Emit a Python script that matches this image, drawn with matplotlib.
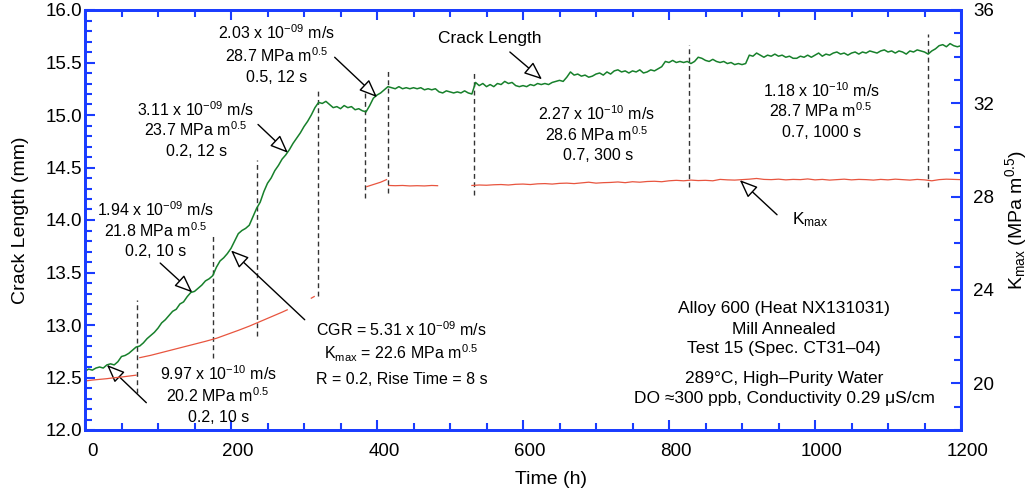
import matplotlib
matplotlib.use("Agg")
import matplotlib.pyplot as plt
import matplotlib.transforms as mtransforms
from matplotlib.ticker import MultipleLocator, FormatStrFormatter

plt.rcParams["font.family"] = ["Liberation Sans", "DejaVu Sans"]
plt.rcParams["mathtext.fontset"] = "custom"
plt.rcParams["mathtext.rm"] = "Liberation Sans"
plt.rcParams["mathtext.it"] = "Liberation Sans:italic"
plt.rcParams["mathtext.bf"] = "Liberation Sans:bold"

# crack length (mm), one reading every 5 h
crack_time = list(range(0, 1201, 5))
crack_mm = [
    12.56, 12.58, 12.57, 12.59, 12.60, 12.59, 12.62, 12.63, 12.62, 12.65,
    12.70, 12.71, 12.73, 12.76, 12.79, 12.80, 12.83, 12.87, 12.90, 12.93,
    12.97, 13.02, 13.05, 13.09, 13.13, 13.15, 13.20, 13.22, 13.27, 13.31,
    13.32, 13.35, 13.38, 13.42, 13.44, 13.47, 13.55, 13.61, 13.64, 13.68,
    13.73, 13.80, 13.87, 13.90, 13.92, 13.95, 14.03, 14.11, 14.17, 14.27,
    14.35, 14.40, 14.47, 14.52, 14.58, 14.62, 14.67, 14.73, 14.78, 14.83,
    14.89, 14.94, 15.00, 15.07, 15.12, 15.11, 15.13, 15.10, 15.07, 15.08,
    15.06, 15.09, 15.07, 15.08, 15.05, 15.06, 15.04, 15.03, 15.09, 15.16,
    15.19, 15.21, 15.24, 15.27, 15.26, 15.25, 15.27, 15.25, 15.26, 15.25,
    15.26, 15.25, 15.26, 15.24, 15.25, 15.24, 15.25, 15.22, 15.21, 15.23,
    15.22, 15.21, 15.22, 15.21, 15.23, 15.21, 15.20, 15.31, 15.28, 15.30,
    15.27, 15.29, 15.27, 15.30, 15.29, 15.32, 15.30, 15.31, 15.28, 15.27,
    15.28, 15.27, 15.29, 15.28, 15.30, 15.29, 15.30, 15.29, 15.31, 15.32,
    15.33, 15.32, 15.36, 15.41, 15.38, 15.39, 15.37, 15.38, 15.36, 15.37,
    15.39, 15.40, 15.38, 15.41, 15.39, 15.42, 15.43, 15.41, 15.42, 15.40,
    15.42, 15.41, 15.43, 15.40, 15.41, 15.43, 15.42, 15.44, 15.46, 15.51,
    15.50, 15.52, 15.50, 15.51, 15.50, 15.51, 15.49, 15.51, 15.55, 15.54,
    15.52, 15.51, 15.53, 15.51, 15.50, 15.51, 15.49, 15.50, 15.48, 15.49,
    15.48, 15.49, 15.57, 15.56, 15.59, 15.57, 15.55, 15.57, 15.56, 15.58,
    15.56, 15.57, 15.55, 15.56, 15.54, 15.54, 15.56, 15.55, 15.57, 15.55,
    15.57, 15.59, 15.56, 15.58, 15.57, 15.59, 15.60, 15.58, 15.59, 15.57,
    15.59, 15.60, 15.58, 15.60, 15.59, 15.61, 15.60, 15.59, 15.61, 15.62,
    15.60, 15.61, 15.59, 15.61, 15.60, 15.58, 15.61, 15.60, 15.62, 15.61,
    15.60, 15.58, 15.61, 15.63, 15.66, 15.67, 15.65, 15.68, 15.66, 15.65, 15.66,
]

# Kmax (MPa m^0.5), recorded in separate pieces
kmax_time = [
    [0, 10, 20, 30, 40, 50, 60, 70],
    [75, 90, 105, 120, 135, 150, 165, 180, 195, 210, 225, 240, 255, 270, 277],
    [310, 314],
    [386, 395, 405, 413],
    [416, 425, 435, 445, 455, 465, 475, 483],
    list(range(530, 1201, 10)),
]
kmax_val = [
    [20.10, 20.14, 20.17, 20.20, 20.24, 20.27, 20.31, 20.35],
    [21.10, 21.20, 21.32, 21.44, 21.56, 21.68, 21.80, 21.93, 22.10, 22.27,
     22.45, 22.65, 22.85, 23.05, 23.15],
    [23.65, 23.72],
    [28.43, 28.52, 28.62, 28.73],
    [28.48, 28.47, 28.48, 28.46, 28.47, 28.46, 28.48, 28.47],
    [28.48, 28.50, 28.49, 28.51, 28.52, 28.50, 28.53, 28.54, 28.52, 28.55,
     28.56, 28.54, 28.57, 28.58, 28.56, 28.59, 28.62, 28.58, 28.60, 28.61,
     28.63, 28.60, 28.64, 28.62, 28.65, 28.66, 28.64, 28.68, 28.70, 28.68,
     28.71, 28.69, 28.70, 28.68, 28.74, 28.72, 28.71, 28.73, 28.75, 28.78,
     28.74, 28.73, 28.75, 28.72, 28.74, 28.73, 28.76, 28.72, 28.74, 28.71,
     28.73, 28.75, 28.72, 28.74, 28.73, 28.71, 28.74, 28.72, 28.75, 28.73,
     28.71, 28.74, 28.72, 28.68, 28.73, 28.75, 28.74, 28.73],
]

# load-change markers (time, bottom mm, top mm)
change_time = [71, 175, 236, 319, 384, 415, 533, 827, 1155]
change_low = [12.35, 12.69, 12.90, 13.28, 14.21, 14.26, 14.24, 14.31, 14.31]
change_high = [13.24, 13.88, 14.57, 15.26, 15.21, 15.43, 15.41, 15.67, 15.77]

W, H = 1034, 496
BLUE = "#1a3cff"
GREEN = "#17802b"
RED = "#e8553f"

fig = plt.figure(figsize=(W / 100, H / 100), dpi=100)
ax = fig.add_axes([85 / W, 1 - 430 / H, 876 / W, 420 / H])
ax2 = ax.twinx()

ax.plot(crack_time, crack_mm, color=GREEN, lw=1.1, zorder=3)
for t, k in zip(kmax_time, kmax_val):
    ax2.plot(t, k, color=RED, lw=0.9)
ax.vlines(change_time, change_low, change_high, colors="#333333",
          linestyles=(0, (3.5, 2.5)), lw=1.0)

ax.set_xlim(0, 1200)
ax.set_ylim(12.0, 16.0)
ax2.set_ylim(18, 36)

ax.xaxis.set_major_locator(MultipleLocator(200))
ax.xaxis.set_minor_locator(MultipleLocator(50))
ax.yaxis.set_major_locator(MultipleLocator(0.5))
ax.yaxis.set_minor_locator(MultipleLocator(0.1))
ax.yaxis.set_major_formatter(FormatStrFormatter("%.1f"))
ax2.yaxis.set_major_locator(MultipleLocator(4))
ax2.yaxis.set_minor_locator(MultipleLocator(1))

for a in (ax, ax2):
    for s in a.spines.values():
        s.set_color(BLUE)
        s.set_linewidth(2.0)
ax.tick_params(which="both", direction="in", color=BLUE, width=1.5,
               top=True, right=False, labelsize=13.5)
ax.tick_params(which="major", length=7.5)
ax.tick_params(which="minor", length=4.8)
ax.tick_params(axis="y", pad=2)
ax.tick_params(axis="x", pad=9)
ax2.tick_params(which="both", direction="in", color=BLUE, width=1.5,
                labelsize=13.5, pad=9)
ax2.tick_params(which="major", length=7.5)
ax2.tick_params(which="minor", length=4.8)

# x tick labels sit a little right of their ticks in the original
shift = mtransforms.ScaledTranslation(7 / 100, 0, fig.dpi_scale_trans)
for tick in ax.xaxis.get_major_ticks():
    tick.label1.set_transform(tick.label1.get_transform() + shift)

ax.set_xlabel("Time (h)", fontsize=14)
ax.xaxis.set_label_coords(0.532, -0.098)
ax.set_ylabel("Crack Length (mm)", fontsize=14)
ax.yaxis.set_label_coords(-0.064, 0.5)
ax2.set_ylabel(r"K$_{\rm max}$ (MPa m$^{0.5}$)", fontsize=14)
ax2.yaxis.set_label_coords(1.048, 0.5)


def label(x, y, s, size=11.5):
    fig.text(x / W, 1 - y / H, s, ha="center", va="center", fontsize=size)


def arrow(tail, tip):
    ax.annotate("", xy=tip, xytext=tail,
                arrowprops=dict(arrowstyle="-|>,head_length=1.1,head_width=0.45",
                                fc="white", ec="black", lw=1.0,
                                shrinkA=0, shrinkB=0))


label(277, 33, r"2.03 x 10$^{-09}$ m/s")
label(277, 56, r"28.7 MPa m$^{0.5}$")
label(277, 77, "0.5, 12 s")
arrow((342, 15.55), (400, 15.17))

label(196, 110, r"3.11 x 10$^{-09}$ m/s")
label(196, 130, r"23.7 MPa m$^{0.5}$")
label(197, 152, "0.2, 12 s")
arrow((237, 14.91), (278, 14.64))

label(490, 38, "Crack Length", 12.5)
arrow((582, 15.60), (626, 15.34))

label(156, 210, r"1.94 x 10$^{-09}$ m/s")
label(156, 231, r"21.8 MPa m$^{0.5}$")
label(156, 252, "0.2, 10 s")
arrow((103, 13.59), (147, 13.31))

label(401, 330, r"CGR = 5.31 x 10$^{-09}$ m/s")
label(401, 353, r"K$_{\rm max}$ = 22.6 MPa m$^{0.5}$")
label(402, 379, "R = 0.2, Rise Time = 8 s")
arrow((301, 13.05), (200, 13.71))

label(219, 374, r"9.97 x 10$^{-10}$ m/s")
label(218, 396, r"20.2 MPa m$^{0.5}$")
label(219, 417, "0.2, 10 s")
arrow((84, 12.26), (30, 12.62))

label(597, 114, r"2.27 x 10$^{-10}$ m/s")
label(597, 135, r"28.6 MPa m$^{0.5}$")
label(598, 155, "0.7, 300 s")

label(822, 91, r"1.18 x 10$^{-10}$ m/s")
label(821, 111, r"28.7 MPa m$^{0.5}$")
label(822, 133, "0.7, 1000 s")

label(810, 220, r"K$_{\rm max}$", 12.5)
arrow((948, 14.05), (897, 14.38))

for y, s in [(309, "Alloy 600 (Heat NX131031)"), (330, "Mill Annealed"),
             (349, "Test 15 (Spec. CT31\u201304)"),
             (378, "289\u00b0C, High\u2013Purity Water"),
             (399, "DO \u2248300 ppb, Conductivity 0.29 \u03bcS/cm")]:
    label(784, y, s, 12.5)

fig.savefig("out.png", dpi=100)
